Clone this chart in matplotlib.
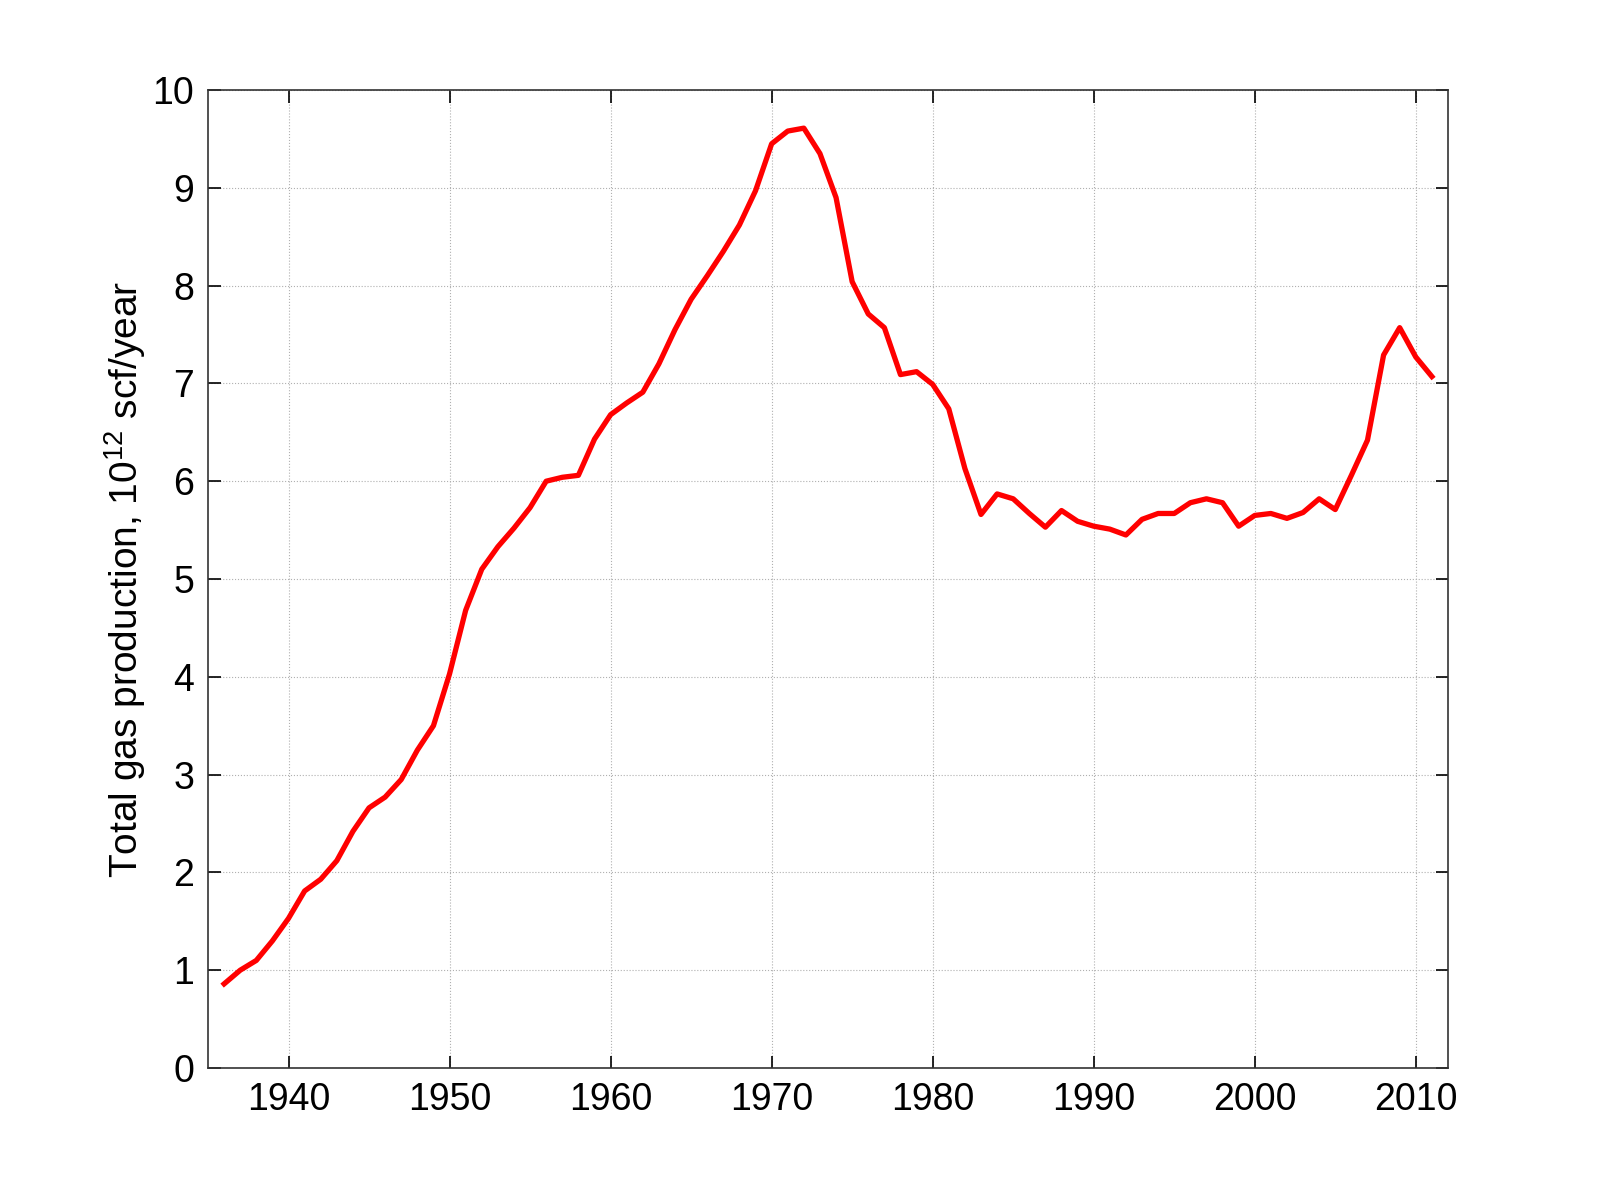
import matplotlib
matplotlib.use("Agg")
import matplotlib.pyplot as plt
import numpy as np

plt.rcParams['font.family'] = ['Liberation Sans', 'DejaVu Sans']

years = np.arange(1936, 2012)
gas = [0.86, 1.0, 1.1, 1.3, 1.53, 1.81, 1.93, 2.12, 2.42, 2.66,
       2.77, 2.95, 3.25, 3.5, 4.03, 4.68, 5.1, 5.33, 5.52, 5.73,
       6.0, 6.04, 6.06, 6.43, 6.68, 6.8, 6.91, 7.2, 7.55, 7.86,
       8.1, 8.35, 8.62, 8.97, 9.45, 9.58, 9.61, 9.35, 8.9, 8.04,
       7.71, 7.57, 7.09, 7.12, 6.99, 6.74, 6.13, 5.66, 5.87, 5.82,
       5.67, 5.53, 5.7, 5.59, 5.54, 5.51, 5.45, 5.61, 5.67, 5.67,
       5.78, 5.82, 5.78, 5.54, 5.65, 5.67, 5.62, 5.68, 5.82, 5.71,
       6.06, 6.42, 7.29, 7.57, 7.27, 7.07]

xticks = [1940, 1950, 1960, 1970, 1980, 1990, 2000, 2010]
yticks = list(range(0, 11))

fig = plt.figure(figsize=(16, 12), dpi=100)
ax = fig.add_axes([0.13, 0.11, 0.775, 0.815])
ax.plot(years, gas, color='#ff0000', lw=3.8)

ax.set_xlim(1935, 2012)
ax.set_ylim(0, 10)
ax.set_xticks(xticks)
ax.set_yticks(yticks)
ax.grid(True, ls=':', color='#b0b0b0', lw=0.8)
ax.tick_params(direction='in', length=9, width=1.2, labelsize=27,
               top=True, right=True, pad=10)
for s in ax.spines.values():
    s.set_linewidth(1.2)
    s.set_color('#333333')

ax.set_ylabel('Total gas production, $\\mathregular{10^{12}}$ scf/year',
              fontsize=28, labelpad=3)

fig.savefig('out.png', dpi=100)
